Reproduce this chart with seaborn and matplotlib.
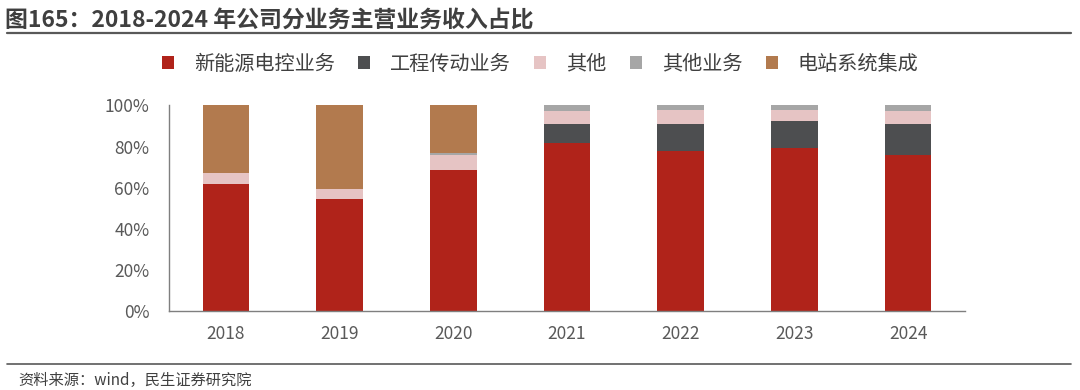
import matplotlib
matplotlib.use('Agg')
import matplotlib.pyplot as plt
import matplotlib.lines as mlines
from matplotlib.patches import Patch
from matplotlib.ticker import FuncFormatter
import numpy as np
import seaborn as sns

sns.set_theme(style='white')
plt.rcParams['font.family'] = ['Noto Sans CJK SC', 'DejaVu Sans']

# data (share of revenue, %)
years = ['2018', '2019', '2020', '2021', '2022', '2023', '2024']
new_energy = [62.0, 54.5, 68.5, 81.6, 78.0, 79.3, 76.0]
engineering = [0, 0, 0, 9.6, 13.2, 13.2, 15.1]
other = [4.9, 4.9, 7.3, 6.3, 6.8, 5.4, 6.3]
other_biz = [0, 0, 1.0, 2.5, 2.0, 2.1, 2.6]
power_station = [33.1, 40.6, 23.2, 0, 0, 0, 0]

series = [
    ('新能源电控业务', new_energy, '#B0231A'),
    ('工程传动业务', engineering, '#4D4E50'),
    ('其他', other, '#E6C4C4'),
    ('其他业务', other_biz, '#A6A6A6'),
    ('电站系统集成', power_station, '#B27A4E'),
]

fig = plt.figure(figsize=(10.8, 3.9), dpi=100)
ax = fig.add_axes([0.1565, 0.2026, 0.737, 0.527])

bottom = np.zeros(len(years))
for name, vals, color in series:
    sns.barplot(x=years, y=vals, bottom=bottom, color=color, width=0.41,
                saturation=1, edgecolor='none', ax=ax)
    bottom += np.array(vals)

ax.set_ylim(0, 100)
ax.set_xlim(-0.5, len(years) - 0.5)
ax.set_yticks([0, 20, 40, 60, 80, 100])
ax.yaxis.set_major_formatter(FuncFormatter(lambda v, p: f'{v:.0f}%'))
ax.tick_params(axis='both', length=0, labelsize=12.5, colors='#595959')
ax.tick_params(axis='y', pad=14)
ax.tick_params(axis='x', pad=10)
for s in ['top', 'right']:
    ax.spines[s].set_visible(False)
for s in ['left', 'bottom']:
    ax.spines[s].set_color('#7F7F7F')
    ax.spines[s].set_linewidth(1.0)
ax.set_xlabel('')
ax.set_ylabel('')

handles = [Patch(facecolor=c, edgecolor='none', label=n) for n, _, c in series]
fig.legend(handles=handles, loc='center left', bbox_to_anchor=(0.133, 0.835),
           ncol=5, frameon=False, fontsize=14.5, handlelength=0.6,
           handleheight=0.6, handletextpad=1.0, columnspacing=1.15,
           labelcolor='#404040')

# title and footer
fig.text(5 / 1080, 1 - 20 / 390, '图165：2018-2024 年公司分业务主营业务收入占比',
         fontsize=16.5, fontweight='bold', color='#3F3F3F', va='center', ha='left')
fig.add_artist(mlines.Line2D([7 / 1080, 1071 / 1080], [1 - 32.5 / 390] * 2,
                             color='#595959', lw=1.6))
fig.add_artist(mlines.Line2D([7 / 1080, 1071 / 1080], [1 - 364 / 390] * 2,
                             color='#595959', lw=1.2))
fig.text(18 / 1080, 1 - 380 / 390, '资料来源：wind，民生证券研究院',
         fontsize=11, color='#404040', va='center', ha='left')

fig.savefig('out.png', dpi=100)
